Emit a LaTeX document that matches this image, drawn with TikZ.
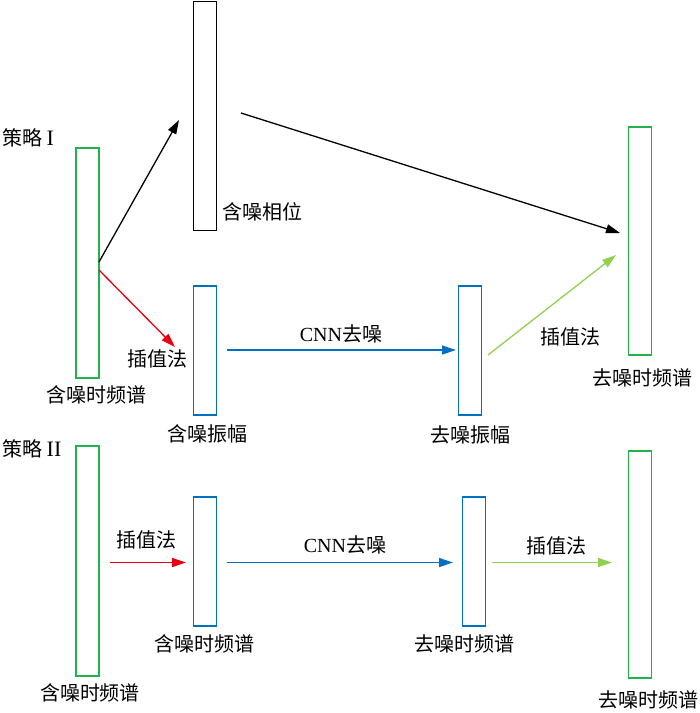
\documentclass[tikz,border=0pt]{standalone}
\usepackage{fontspec}
\setmainfont{Liberation Serif}
\newfontfamily\cjk{Noto Sans CJK SC}
\usetikzlibrary{arrows.meta}
\definecolor{cgreen}{RGB}{34,177,76}
\definecolor{cblue}{RGB}{0,112,192}
\definecolor{cred}{RGB}{230,0,18}
\definecolor{clgreen}{RGB}{146,208,80}
\tikzset{
  bar/.style={draw, line width=1.3pt, minimum width=23pt, inner sep=0pt, fill=white},
  gbar/.style={bar, draw=cgreen},
  bbar/.style={bar, draw=cblue},
  kbar/.style={bar, draw=black},
  lbl/.style={inner sep=0pt, font=\cjk\fontsize{20}{20}\selectfont},
  conn/.style={line width=1.3pt, -{Triangle[length=14pt,width=9pt]}},
}
\begin{document}
\begin{tikzpicture}[x=1pt,y=-1pt]
\useasboundingbox (0,0) rectangle (700,713);
% strategy I
\node[lbl, anchor=west] (s1) at (2,138) {策略 {\rmfamily\fontsize{22}{22}\selectfont I}};
\node[gbar, minimum height=230pt] (g1) at (87.5,263) {};
\node[kbar, minimum height=229pt] (k1) at (205,116) {};
\node[bbar, minimum height=129pt] (b1) at (205,350.5) {};
\node[bbar, minimum height=129pt] (b2) at (470,350.5) {};
\node[gbar, minimum height=228pt] (g2) at (640,241) {};
\node[lbl] (t1) at (96,395) {含噪时频谱};
\node[lbl, anchor=west] (t2) at (222,212) {含噪相位};
\node[lbl] (t3) at (157,359) {插值法};
\node[lbl] (t4) at (207,434) {含噪振幅};
\node[lbl] (t5) at (341,334) {{\rmfamily CNN}去噪};
\node[lbl] (t6) at (470,435) {去噪振幅};
\node[lbl] (t7) at (570,337) {插值法};
\node[lbl] (t8) at (642,378) {去噪时频谱};
\coordinate (a1s) at (99,262);
\coordinate (a1e) at (179,120);
\coordinate (a2s) at (241,113);
\coordinate (a2e) at (620,233);
\coordinate (a3s) at (99,270);
\coordinate (a3e) at (175,347);
\coordinate (a4s) at (227,350);
\coordinate (a4e) at (456,350);
\coordinate (a5s) at (488,355);
\coordinate (a5e) at (616,255);
\draw[conn] (a1s) -- (a1e);
\draw[conn] (a2s) -- (a2e);
\draw[conn, cred] (a3s) -- (a3e);
\draw[conn, cblue] (a4s) -- (a4e);
\draw[conn, clgreen] (a5s) -- (a5e);
% strategy II
\node[lbl, anchor=west] (s2) at (2,449) {策略 {\rmfamily\fontsize{22}{22}\selectfont II}};
\node[gbar, minimum height=230pt] (g3) at (87.5,561) {};
\node[bbar, minimum height=129pt] (b3) at (205,561.5) {};
\node[bbar, minimum height=129pt] (b4) at (474,561.5) {};
\node[gbar, minimum height=227pt] (g4) at (640,564.5) {};
\node[lbl] (u1) at (90,693) {含噪时频谱};
\node[lbl] (u2) at (146,540) {插值法};
\node[lbl] (u3) at (204,644) {含噪时频谱};
\node[lbl] (u4) at (345,545) {{\rmfamily CNN}去噪};
\node[lbl] (u5) at (464,644) {去噪时频谱};
\node[lbl] (u6) at (556,546) {插值法};
\node[lbl] (u7) at (648,700) {去噪时频谱};
\coordinate (c1s) at (110,562.5);
\coordinate (c1e) at (186,562.5);
\coordinate (c2s) at (227,562.5);
\coordinate (c2e) at (453,562.5);
\coordinate (c3s) at (492,562.5);
\coordinate (c3e) at (612,562.5);
\draw[conn, cred] (c1s) -- (c1e);
\draw[conn, cblue] (c2s) -- (c2e);
\draw[conn, clgreen] (c3s) -- (c3e);
\end{tikzpicture}
\end{document}
